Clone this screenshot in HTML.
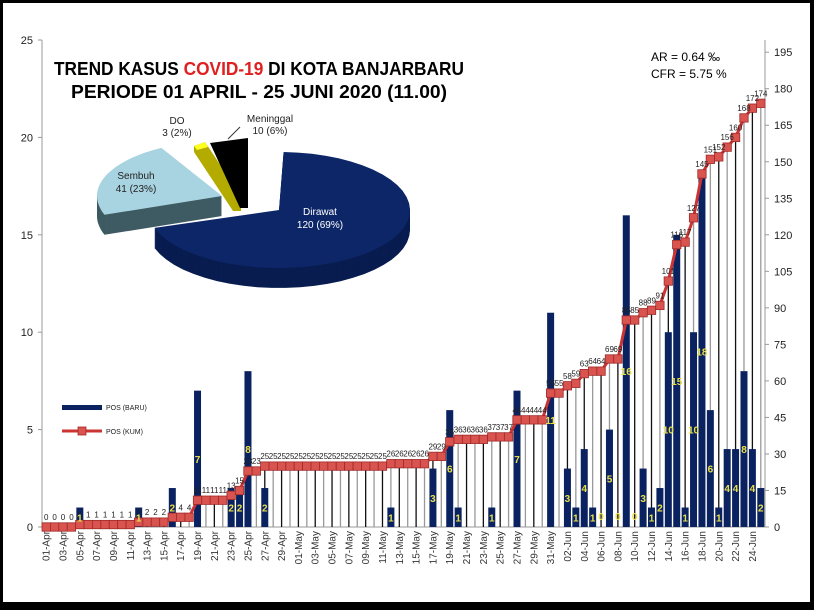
<!DOCTYPE html>
<html><head><meta charset="utf-8"><style>
html,body{margin:0;padding:0;background:#000;}
svg{display:block;font-family:"Liberation Sans",sans-serif;}
</style></head><body>
<svg id="s" width="814" height="610" xmlns="http://www.w3.org/2000/svg">
<rect x="0" y="0" width="814" height="610" fill="#000"/>
<rect x="3" y="3" width="807" height="599" fill="#fff"/>
<text x="259" y="75" font-size="18" font-weight="bold" text-anchor="middle" fill="#000" textLength="410" lengthAdjust="spacingAndGlyphs">TREND KASUS <tspan fill="#e02020">COVID-19</tspan> DI KOTA BANJARBARU</text>
<text x="259" y="98" font-size="18" font-weight="bold" text-anchor="middle" fill="#000" textLength="376" lengthAdjust="spacingAndGlyphs">PERIODE 01 APRIL -  25 JUNI 2020 (11.00)</text>
<text x="651" y="61" font-size="12" fill="#000">AR   = 0.64 ‰</text>
<text x="651" y="78" font-size="12" fill="#000">CFR = 5.75 %</text>
<g id="g"></g>
</svg>
<script>
var ns="http://www.w3.org/2000/svg",g=document.getElementById('g');
function el(t,a,txt){var e=document.createElementNS(ns,t);for(var k in a)e.setAttribute(k,a[k]);if(txt!==undefined)e.textContent=txt;g.appendChild(e);return e;}
var nw=[0,0,0,0,1,0,0,0,0,0,0,1,0,0,0,2,0,0,7,0,0,0,2,2,8,0,2,0,0,0,
0,0,0,0,0,0,0,0,0,0,0,1,0,0,0,0,3,0,6,1,0,0,0,1,0,0,7,0,0,0,11,
0,3,1,4,1,0,5,0,16,0,3,1,2,10,15,1,10,18,6,1,4,4,8,4,2];
var x0=42,x1=765,N=86,w=(x1-x0)/N,yb=527;
function X(i){return x0+(i+0.5)*w;}
function YL(v){return yb-v*19.48;}
function YR(v){return yb-v*2.435;}
var cum=[],c=0;for(var i=0;i<N;i++){c+=nw[i];cum.push(c);}
el('line',{x1:x0,y1:40,x2:x0,y2:yb,stroke:'#999','stroke-width':1});
el('line',{x1:x1,y1:40,x2:x1,y2:yb,stroke:'#999','stroke-width':1});
el('line',{x1:x0,y1:yb,x2:x1,y2:yb,stroke:'#999','stroke-width':1});
for(var v=0;v<=25;v+=5){var y=YL(v);el('line',{x1:x0-4,y1:y,x2:x0,y2:y,stroke:'#999'});el('text',{x:33,y:y+4,'font-size':11,'text-anchor':'end',fill:'#222'},v);}
for(var v=0;v<=195;v+=15){var y=YR(v);el('line',{x1:x1,y1:y,x2:x1+4,y2:y,stroke:'#999'});el('text',{x:774,y:y+4,'font-size':11,fill:'#222'},v);}
var mon=['Apr','May','Jun'],ml=[30,31,30];
for(var i=0;i<N;i+=2){var d=i,m=0;while(d>=ml[m]){d-=ml[m];m++;}var s=(d+1<10?'0':'')+(d+1)+'-'+mon[m];
var tx=X(i)+3.5;el('text',{x:0,y:0,'font-size':10,'text-anchor':'end',fill:'#333',transform:'translate('+tx+','+(yb+4)+') rotate(-90)'},s);}
for(var i=0;i<N;i++){el('line',{x1:X(i),y1:YR(cum[i]),x2:X(i),y2:yb,stroke:i%2?'#999':'#111','stroke-width':1.3});}
for(var i=0;i<N;i++){if(nw[i]>0){el('rect',{x:X(i)-3.5,y:YL(nw[i]),width:7,height:yb-YL(nw[i]),fill:'#0b2260'});}}
var p='';for(var i=0;i<N;i++)p+=(i?'L':'M')+X(i).toFixed(1)+' '+YR(cum[i]).toFixed(1);
el('path',{d:p,fill:'none',stroke:'#cc3333','stroke-width':3});
for(var i=0;i<N;i++)el('rect',{x:X(i)-4.2,y:YR(cum[i])-4.2,width:8.4,height:8.4,fill:'#d9534f',stroke:'#a02a2a','stroke-width':0.8});
for(var i=0;i<N;i++)el('text',{x:X(i),y:YR(cum[i])-7,'font-size':8,'text-anchor':'middle',fill:'#222'},cum[i]);
for(var i=0;i<N;i++){var z=(i==66||i==68||i==70);if(nw[i]>0||z){var y=nw[i]>0?(YL(nw[i])+yb)/2+4:yb-7;
el('text',{x:X(i),y:y,'font-size':10,'font-weight':'bold','text-anchor':'middle',fill:'#e8e04a'},nw[i]);}}
el('rect',{x:62,y:405,width:40,height:5,fill:'#0b2260'});
el('text',{x:106,y:410,'font-size':7,fill:'#222'},'POS (BARU)');
el('line',{x1:62,y1:431,x2:102,y2:431,stroke:'#cc3333','stroke-width':3});
el('rect',{x:78,y:427,width:8,height:8,fill:'#d9534f',stroke:'#a02a2a','stroke-width':0.8});
el('text',{x:106,y:434,'font-size':7,fill:'#222'},'POS (KUM)');
function sector(cx,cy,rx,ry,a0,a1){var r=Math.PI/180,s='M'+cx+' '+cy;var n=40;for(var k=0;k<=n;k++){var a=(a0+(a1-a0)*k/n)*r;s+='L'+(cx+rx*Math.sin(a)).toFixed(1)+' '+(cy-ry*Math.cos(a)).toFixed(1);}return s+'Z';}
function slice(cx,cy,rx,ry,a0,a1,dep,top,side){for(var k=dep;k>0;k-=1)el('path',{d:sector(cx,cy+k,rx,ry,a0,a1),fill:side});el('path',{d:sector(cx,cy,rx,ry,a0,a1),fill:top});}
slice(279,210,131,58,2,252,20,'#0c2668','#081c50');
slice(222,196,125,55,250,331,20,'#a8d3e0','#3e5a62');
el('polygon',{points:'194,146 205,142 241,196 241,211 233,211 194,152',fill:'#b3ab00'});
el('polygon',{points:'194,146 205,142 208,147 197,150',fill:'#ffff20'});
el('polygon',{points:'210,143 248,138 248,208 240,208',fill:'#000'});
el('line',{x1:228,y1:139,x2:240,y2:127,stroke:'#333','stroke-width':1});
el('text',{x:320,y:215,'font-size':10,fill:'#fff','text-anchor':'middle'},'Dirawat');
el('text',{x:320,y:228,'font-size':10,fill:'#fff','text-anchor':'middle'},'120 (69%)');
el('text',{x:136,y:179,'font-size':10,fill:'#222','text-anchor':'middle'},'Sembuh');
el('text',{x:136,y:192,'font-size':10,fill:'#222','text-anchor':'middle'},'41 (23%)');
el('text',{x:177,y:124,'font-size':10,fill:'#222','text-anchor':'middle'},'DO');
el('text',{x:177,y:136,'font-size':10,fill:'#222','text-anchor':'middle'},'3 (2%)');
el('text',{x:270,y:122,'font-size':10,fill:'#222','text-anchor':'middle'},'Meninggal');
el('text',{x:270,y:134,'font-size':10,fill:'#222','text-anchor':'middle'},'10 (6%)');
</script>
</body></html>
